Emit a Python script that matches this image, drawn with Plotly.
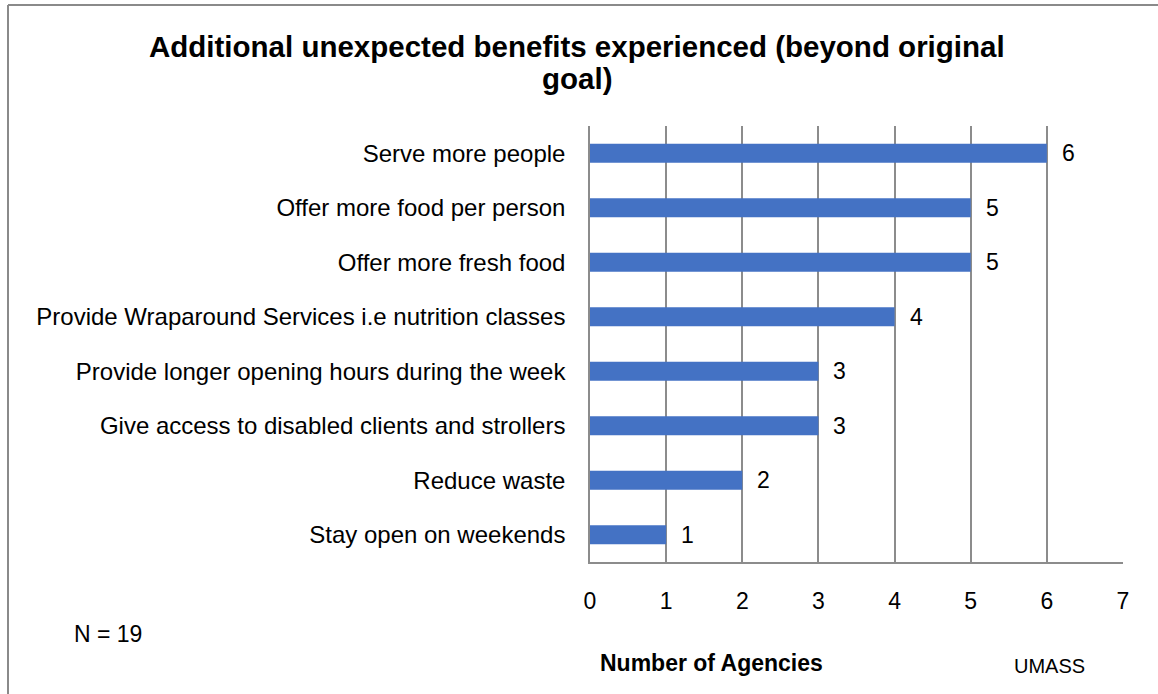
import plotly.graph_objects as go

# Survey results: agencies reporting each additional benefit
categories = [
    "Serve more people",
    "Offer more food per person",
    "Offer more fresh food",
    "Provide Wraparound Services i.e nutrition classes",
    "Provide longer opening hours during the week",
    "Give access to disabled clients and strollers",
    "Reduce waste",
    "Stay open on weekends",
]
agencies = [6, 5, 5, 4, 3, 3, 2, 1]
x_ticks = [0, 1, 2, 3, 4, 5, 6, 7]

title_lines = ["Additional unexpected benefits experienced (beyond original", "goal)"]
axis_title = "Number of Agencies"
sample_note = "N = 19"
source_note = "UMASS"

FONT = "Liberation Sans, Arial, sans-serif"
BAR_COLOR = "#4472C4"
GRID_COLOR = "#8c8c8c"

# plot area in pixels (figure is 1158 x 694)
W, H = 1158, 694
L, R, T, B = 590, 35, 126, 132
pw, ph = W - L - R, H - T - B


def px_x(px):
    return (px - L) / pw


def px_y(py):
    return (H - B - py) / ph


fig = go.Figure(
    go.Bar(
        x=agencies,
        y=categories,
        orientation="h",
        marker=dict(color=BAR_COLOR, line=dict(width=0)),
        width=0.35,
        hoverinfo="x+y",
    )
)

# value labels just past the end of each bar
for cat, val in zip(categories, agencies):
    fig.add_annotation(
        x=val, y=cat, text=str(val), showarrow=False,
        xanchor="left", xshift=13,
        font=dict(family=FONT, size=23, color="#000000"),
    )

# two-line bold title, set tight
for line, ypx in zip(title_lines, [47, 78]):
    fig.add_annotation(
        xref="paper", yref="paper", x=px_x(577), y=px_y(ypx),
        text="<b>" + line + "</b>", showarrow=False,
        xanchor="center", yanchor="middle",
        font=dict(family=FONT, size=29.5, color="#000000"),
    )

fig.add_annotation(
    xref="paper", yref="paper", x=px_x(711), y=px_y(663),
    text="<b>" + axis_title + "</b>", showarrow=False,
    xanchor="center", yanchor="middle",
    font=dict(family=FONT, size=23, color="#000000"),
)
fig.add_annotation(
    xref="paper", yref="paper", x=px_x(72), y=px_y(634),
    text=sample_note, showarrow=False,
    xanchor="left", yanchor="middle",
    font=dict(family=FONT, size=23, color="#000000"),
)
fig.add_annotation(
    xref="paper", yref="paper", x=px_x(1049), y=px_y(666),
    text=source_note, showarrow=False,
    xanchor="center", yanchor="middle",
    font=dict(family=FONT, size=20, color="#000000"),
)

# outer chart frame (left and top edges)
fig.add_shape(type="line", xref="paper", yref="paper",
              x0=px_x(8), x1=px_x(8), y0=px_y(5), y1=px_y(720),
              line=dict(color="#8a8a8a", width=2))
fig.add_shape(type="line", xref="paper", yref="paper",
              x0=px_x(8), x1=px_x(1200), y0=px_y(5), y1=px_y(5),
              line=dict(color="#8a8a8a", width=2))

fig.update_layout(
    width=W, height=H,
    margin=dict(l=L, r=R, t=T, b=B, autoexpand=False),
    paper_bgcolor="#ffffff", plot_bgcolor="#ffffff",
    showlegend=False,
    font=dict(family=FONT, size=20, color="#000000"),
    xaxis=dict(
        range=[0, 7], tickvals=x_ticks, showgrid=True,
        gridcolor=GRID_COLOR, gridwidth=1.5, zeroline=False,
        showline=True, linecolor=GRID_COLOR, linewidth=1.5,
        ticks="", ticklabelstandoff=18,
        tickfont=dict(family=FONT, size=23, color="#000000"),
    ),
    yaxis=dict(
        categoryorder="array", categoryarray=categories[::-1],
        showgrid=False, zeroline=False,
        showline=True, linecolor=GRID_COLOR, linewidth=1.5,
        ticks="", ticklabelstandoff=18,
        tickfont=dict(family=FONT, size=24, color="#000000"),
    ),
)

fig.write_html("out.html")
